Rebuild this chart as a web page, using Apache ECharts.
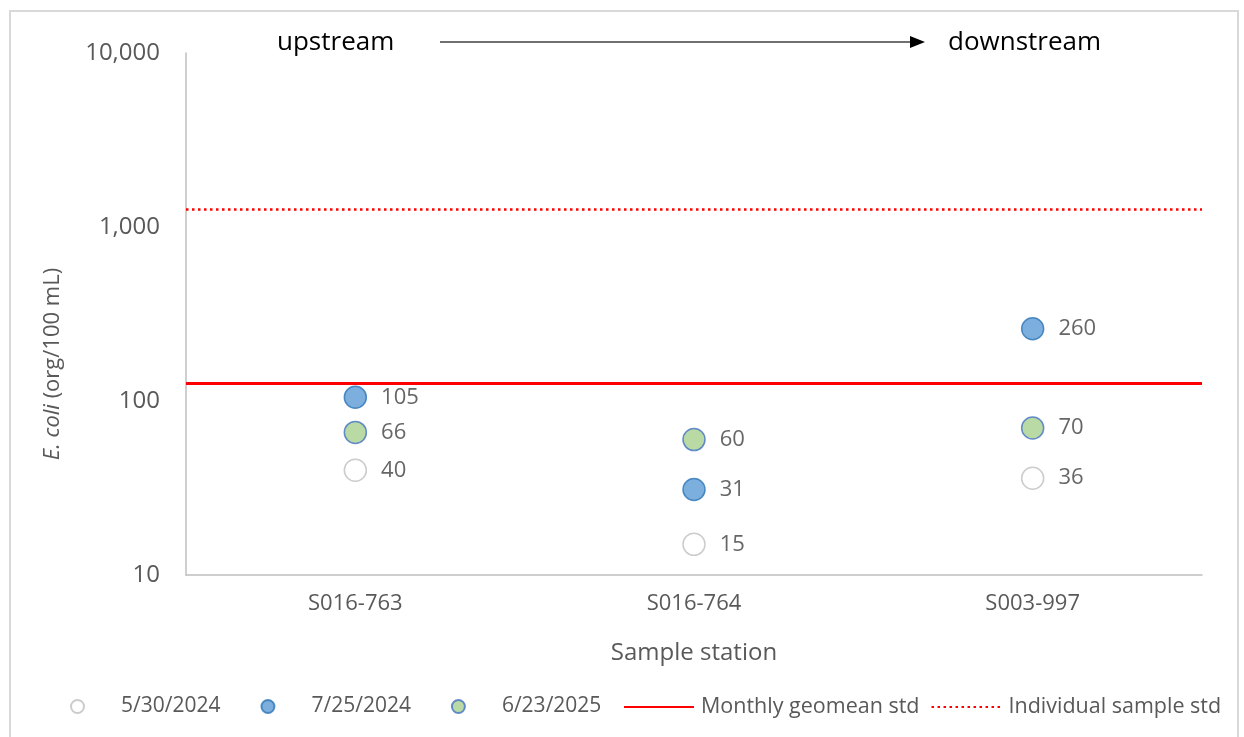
<!DOCTYPE html>
<html>
<head>
<meta charset="utf-8">
<title>E. coli by sample station</title>
<script src="https://cdn.jsdelivr.net/npm/echarts@6/dist/echarts.min.js"></script>
<style>
  html, body { margin: 0; padding: 0; background: #fff; }
  #chart { width: 1244px; height: 737px; }
</style>
</head>
<body>
<div id="chart"></div>
<script>
  // stations, upstream -> downstream
  var stations = ['S016-763', 'S016-764', 'S003-997'];
  var may2024 = [40, 15, 36];
  var jul2024 = [105, 31, 260];
  var jun2025 = [66, 60, 70];
  var geomeanStd = 126;
  var sampleStd = 1260;
  var yTicks = [10, 100, 1000, 10000];

  var font = 'Open Sans';
  var grey = '#595959';

  var chart = echarts.init(document.getElementById('chart'));

  function dots(name, data, fill, border) {
    return {
      name: name,
      type: 'scatter',
      data: data,
      symbol: 'circle',
      symbolSize: 22,
      itemStyle: { color: fill, borderColor: border, borderWidth: 1.5 },
      label: {
        show: true,
        position: 'right',
        distance: 14,
        color: '#404040',
        fontFamily: font,
        fontSize: 22
      },
      z: 3
    };
  }

  function stdLine(name, value, type, width) {
    return {
      name: name,
      type: 'line',
      data: [],
      symbol: 'none',
      itemStyle: { color: '#ff0000' },
      lineStyle: { color: '#ff0000', width: width, type: type },
      markLine: {
        silent: true,
        symbol: 'none',
        label: { show: false },
        lineStyle: { color: '#ff0000', width: width, type: type },
        data: [{ yAxis: value }]
      }
    };
  }

  chart.setOption({
    backgroundColor: '#fff',
    animation: false,
    textStyle: { fontFamily: font },
    grid: { left: 186, right: 42, top: 53, bottom: 162 },
    graphic: [
      {
        type: 'rect',
        shape: { x: 10, y: 11, width: 1228, height: 740 },
        style: { fill: 'none', stroke: '#d9d9d9', lineWidth: 2 },
        silent: true
      },
      {
        type: 'text', x: 277, y: 43,
        style: { text: 'upstream', fontFamily: font, fontSize: 26, fill: '#000', verticalAlign: 'middle' }
      },
      {
        type: 'line',
        shape: { x1: 440, y1: 42, x2: 912, y2: 42 },
        style: { stroke: '#404040', lineWidth: 1.5 }
      },
      {
        type: 'polygon',
        shape: { points: [[910, 36], [925, 42], [910, 48]] },
        style: { fill: '#000' }
      },
      {
        type: 'text', x: 948, y: 43,
        style: { text: 'downstream', fontFamily: font, fontSize: 26, fill: '#000', verticalAlign: 'middle' }
      }
    ],
    legend: [
      {
        left: 70, top: 696, padding: 0,
        itemWidth: 13, itemHeight: 13, itemGap: 40,
        icon: 'circle',
        textStyle: { color: grey, fontFamily: font, fontSize: 21, padding: [0, 0, 0, 32] },
        data: ['5/30/2024', '7/25/2024', '6/23/2025']
      },
      {
        left: 623, top: 696, padding: 0,
        itemWidth: 70, itemHeight: 14, itemGap: 11,
        itemStyle: { opacity: 0 },
        textStyle: { color: grey, fontFamily: font, fontSize: 21.5, padding: [0, 0, 0, 2] },
        data: ['Monthly geomean std', 'Individual sample std']
      }
    ],
    xAxis: {
      type: 'category',
      data: stations,
      name: 'Sample station',
      nameLocation: 'middle',
      nameGap: 66,
      nameTextStyle: { color: grey, fontFamily: font, fontSize: 24 },
      axisLine: { lineStyle: { color: '#bfbfbf', width: 1.5 } },
      axisTick: { show: false },
      axisLabel: { color: grey, fontFamily: font, fontSize: 22, margin: 18 }
    },
    yAxis: {
      type: 'log',
      logBase: 10,
      min: yTicks[0],
      max: yTicks[yTicks.length - 1],
      name: '{i|E. coli} (org/100 mL)',
      nameLocation: 'middle',
      nameGap: 122,
      nameTextStyle: {
        color: grey, fontFamily: font, fontSize: 22,
        padding: [0, 100, 0, 0],
        rich: { i: { fontStyle: 'italic', color: grey, fontFamily: font, fontSize: 22 } }
      },
      axisLine: { show: true, lineStyle: { color: '#bfbfbf', width: 1.5 } },
      axisTick: { show: false },
      splitLine: { show: false },
      axisLabel: {
        color: grey, fontFamily: font, fontSize: 24, margin: 26,
        formatter: function (v) { return Math.round(v).toLocaleString('en-US'); }
      }
    },
    series: [
      dots('5/30/2024', may2024, '#ffffff', '#bfbfbf'),
      dots('7/25/2024', jul2024, '#5b9bd5', '#2e75b6'),
      dots('6/23/2025', jun2025, '#a9d18e', '#4472c4'),
      stdLine('Monthly geomean std', geomeanStd, 'solid', 3),
      stdLine('Individual sample std', sampleStd, [2.5, 3.5], 2.5)
    ]
  });
</script>
</body>
</html>
